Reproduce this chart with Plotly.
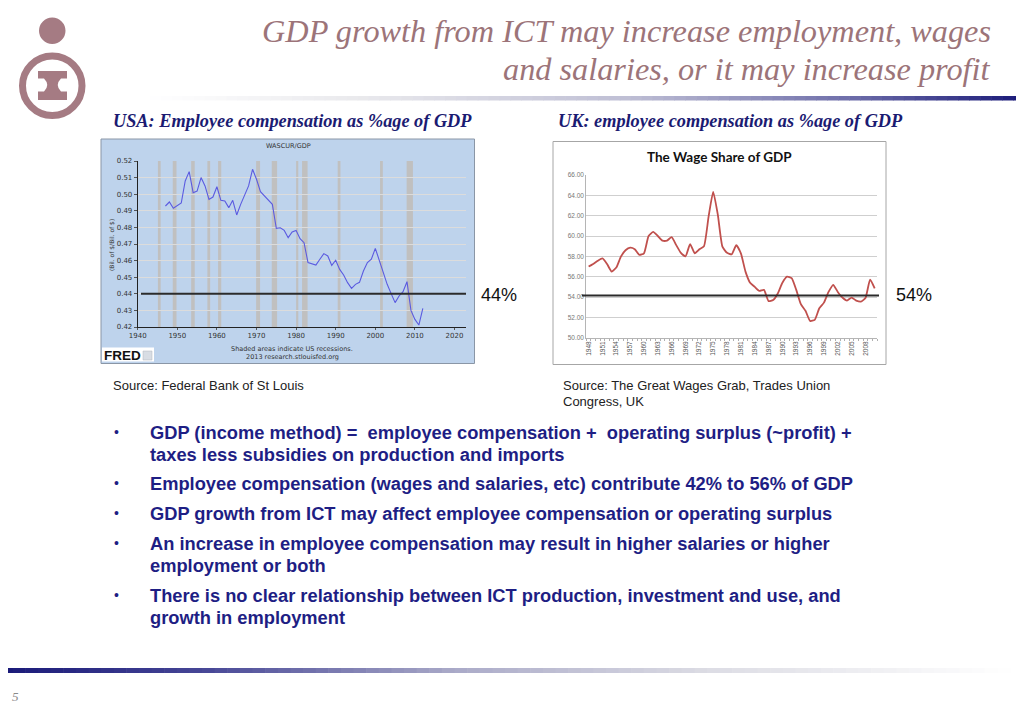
import plotly.graph_objects as go

W, H = 1024, 709

# ---------------- data ----------------
us_years = list(range(1947, 2013))
us_share = [0.4929, 0.4953, 0.4915, 0.4933, 0.4947, 0.5080, 0.5136, 0.5009, 0.5019, 0.5100,
            0.5050, 0.4969, 0.4983, 0.5045, 0.4963, 0.4959, 0.4919, 0.4963, 0.4875, 0.4939,
            0.4995, 0.5050, 0.5150, 0.5090, 0.5015, 0.4989, 0.4969, 0.4939, 0.4794, 0.4798,
            0.4782, 0.4738, 0.4772, 0.4782, 0.4732, 0.4708, 0.4588, 0.4582, 0.4573, 0.4608,
            0.4642, 0.4628, 0.4571, 0.4602, 0.4547, 0.4513, 0.4467, 0.4433, 0.4457, 0.4469,
            0.4537, 0.4588, 0.4608, 0.4674, 0.4602, 0.4517, 0.4457, 0.4401, 0.4347, 0.4387,
            0.4413, 0.4473, 0.4300, 0.4246, 0.4212, 0.4312]
us_recession_start = [1945.1, 1948.85, 1953.5, 1957.6, 1960.3, 1969.9, 1973.85, 1980.0, 1981.5, 1990.5, 2001.2, 2007.9]
us_recession_end = [1945.8, 1949.8, 1954.4, 1958.3, 1961.1, 1970.9, 1975.2, 1980.55, 1982.9, 1991.2, 2001.9, 2009.5]
us_yticks = [0.42, 0.43, 0.44, 0.45, 0.46, 0.47, 0.48, 0.49, 0.50, 0.51, 0.52]
us_xticks = [1940, 1950, 1960, 1970, 1980, 1990, 2000, 2010, 2020]

uk_years = list(range(1948, 2011))
uk_share = [57.0, 57.25, 57.57, 57.8, 57.25, 56.5, 56.9, 57.97, 58.6, 58.85,
            58.7, 58.15, 58.3, 60.0, 60.4, 60.0, 59.55, 59.55, 59.9, 59.1,
            58.35, 58.0, 59.2, 58.3, 58.7, 59.0, 61.9, 64.35, 62.1, 58.95,
            58.35, 58.2, 59.1, 58.3, 56.5, 55.4, 55.0, 54.6, 54.7, 53.6,
            53.7, 54.35, 55.4, 56.0, 55.85, 54.7, 53.3, 52.65, 51.65, 51.75,
            52.9, 53.45, 54.5, 55.2, 54.5, 53.95, 53.65, 53.95, 53.65, 53.55,
            53.9, 55.7, 54.85]
uk_yticks = [50, 52, 54, 56, 58, 60, 62, 64, 66]
uk_xticks = list(range(1948, 2011, 3))

us_ref_level = 0.44
uk_ref_level = 54.15

title_lines = ["GDP growth from ICT may increase employment, wages",
               "and salaries, or it may increase profit"]
bullets = [
    ["GDP (income method) =  employee compensation +  operating surplus (~profit) +",
     "taxes less subsidies on production and imports"],
    ["Employee compensation (wages and salaries, etc) contribute 42% to 56% of GDP"],
    ["GDP growth from ICT may affect employee compensation or operating surplus"],
    ["An increase in employee compensation may result in higher salaries or higher",
     "employment or both"],
    ["There is no clear relationship between ICT production, investment and use, and",
     "growth in employment"],
]


def px(x):
    return x / W


def py(y):
    return 1 - y / H


fig = go.Figure()

fig.add_trace(go.Scatter(x=us_years, y=us_share, mode="lines",
                         line=dict(color="#5b5be0", width=1.1),
                         xaxis="x", yaxis="y", hoverinfo="skip"))
fig.add_trace(go.Scatter(x=uk_years, y=uk_share, mode="lines",
                         line=dict(color="#c0504d", width=1.8, shape="spline", smoothing=0.5),
                         xaxis="x2", yaxis="y2", hoverinfo="skip"))

shapes = []
annotations = []


def lerp(c1, c2, t):
    return tuple(int(round(a + (b - a) * t)) for a, b in zip(c1, c2))


def gradient_bar(x0, x1, y0, y1, stops, n=80):
    for i in range(n):
        t = (i + 0.5) / n
        for j in range(len(stops) - 1):
            if stops[j][0] <= t <= stops[j + 1][0]:
                tt = (t - stops[j][0]) / (stops[j + 1][0] - stops[j][0])
                c = lerp(stops[j][1], stops[j + 1][1], tt)
                break
        xa = x0 + (x1 - x0) * i / n
        xb = x0 + (x1 - x0) * (i + 1) / n + 0.6
        shapes.append(dict(type="rect", xref="paper", yref="paper",
                           x0=px(xa), x1=px(xb), y0=py(y1), y1=py(y0),
                           line=dict(width=0), fillcolor="rgb(%d,%d,%d)" % c, layer="below"))


gradient_bar(150, 1024, 96, 100.5,
             [(0, (255, 255, 255)), (0.25, (232, 232, 236)), (0.55, (190, 190, 212)),
              (0.8, (110, 110, 170)), (1.0, (25, 25, 120))])
gradient_bar(0, 1010, 668, 673,
             [(0, (25, 25, 120)), (0.2, (70, 70, 150)), (0.45, (170, 170, 200)),
              (0.7, (220, 220, 228)), (1.0, (255, 255, 255))])

# --- logo ---
logo_col = "#a57b83"
shapes.append(dict(type="circle", xref="paper", yref="paper",
                   x0=px(39), x1=px(65.5), y0=py(44), y1=py(17.5),
                   fillcolor=logo_col, line=dict(width=0)))
shapes.append(dict(type="circle", xref="paper", yref="paper",
                   x0=px(22.5), x1=px(82), y0=py(115.5), y1=py(56),
                   fillcolor="rgba(0,0,0,0)", line=dict(color=logo_col, width=7)))
pts = "M {},{} L {},{} L {},{} L {},{} Q {},{} {},{} L {},{} L {},{} L {},{} L {},{} L {},{} Q {},{} {},{} L {},{} Z"
coords = [(38, 71), (67, 71), (67, 78.5), (61, 78.5), (54.5, 85), (61, 91.5), (67, 91.5), (67, 100),
          (38, 100), (38, 91.5), (44, 91.5), (50.5, 85), (44, 78.5), (38, 78.5)]
flat = []
for (a, b) in coords:
    flat += [round(px(a), 5), round(py(b), 5)]
shapes.append(dict(type="path", xref="paper", yref="paper", path=pts.format(*flat),
                   fillcolor=logo_col, line=dict(width=0)))

# --- US chart frame ---
shapes.append(dict(type="rect", xref="paper", yref="paper",
                   x0=px(101), x1=px(474.5), y0=py(363.5), y1=py(139),
                   fillcolor="#bed3ec", line=dict(color="#8a96a6", width=1), layer="below"))
for s, e in zip(us_recession_start, us_recession_end):
    shapes.append(dict(type="rect", xref="x", yref="y domain", x0=s, x1=e, y0=0, y1=1,
                       fillcolor="#c0c0c0", line=dict(width=0), layer="below"))
shapes.append(dict(type="rect", xref="paper", yref="paper",
                   x0=px(102), x1=px(154), y0=py(361.5), y1=py(347.5),
                   fillcolor="white", line=dict(width=0)))
shapes.append(dict(type="rect", xref="paper", yref="paper",
                   x0=px(143), x1=px(152), y0=py(360), y1=py(351),
                   fillcolor="#d8dde4", line=dict(color="#b0b6bf", width=0.5)))

# --- UK chart frame ---
shapes.append(dict(type="rect", xref="paper", yref="paper",
                   x0=px(553), x1=px(886), y0=py(364.5), y1=py(141.5),
                   fillcolor="white", line=dict(color="#a6a6a6", width=1), layer="below"))

# --- reference lines drawn over the charts ---
shapes.append(dict(type="line", xref="paper", yref="y", x0=px(141), x1=px(466),
                   y0=us_ref_level, y1=us_ref_level, line=dict(color="#2b2b2b", width=2)))
shapes.append(dict(type="line", xref="paper", yref="y2", x0=px(582), x1=px(879),
                   y0=uk_ref_level, y1=uk_ref_level, line=dict(color="#2b2b2b", width=2)))


def text(x, y, s, size, color, family, xanchor="left", yanchor="middle", **kw):
    annotations.append(dict(x=px(x), y=py(y), xref="paper", yref="paper", text=s,
                            showarrow=False, xanchor=xanchor, yanchor=yanchor,
                            font=dict(size=size, color=color, family=family), **kw))


title_col = "#9c7479"
text(993, 31, "<i>%s</i>" % title_lines[0], 32.3, title_col, "Liberation Serif", xanchor="right")
text(993, 69, "<i>%s</i>" % title_lines[1], 32.3, title_col, "Liberation Serif", xanchor="right")

sub_col = "#1b1b72"
text(111, 121, "<b><i>USA: Employee compensation as %age of GDP</i></b>", 18.3, sub_col, "Liberation Serif")
text(556, 121, "<b><i>UK: employee compensation as %age of GDP</i></b>", 18.3, sub_col, "Liberation Serif")

fred_font = "DejaVu Sans"
text(288, 145.5, "WASCUR/GDP", 6.5, "#333333", fred_font, xanchor="center")
text(292, 348.5, "Shaded areas indicate US recessions.", 6.5, "#333333", fred_font, xanchor="center")
text(292, 356.5, "2013 research.stlouisfed.org", 6.5, "#333333", fred_font, xanchor="center")
text(102, 355, "<b>FRED</b>", 13.5, "#111111", "Liberation Sans")
text(111, 245, "(Bil. of $/Bil. of $)", 6, "#333333", fred_font, xanchor="center", textangle=-90)

text(719.5, 157, "<b>The Wage Share of GDP</b>", 13.5, "#111111", "Lato", xanchor="center")

text(479, 295, "44%", 18, "#111111", "Liberation Sans")
text(894, 295, "54%", 18, "#111111", "Liberation Sans")

text(111, 385, "Source: Federal Bank of St Louis", 13, "#222222", "Liberation Sans")
text(561, 385, "Source: The Great Wages Grab, Trades Union", 13, "#222222", "Liberation Sans")
text(561, 401, "Congress, UK", 13, "#222222", "Liberation Sans")

bul_col = "#1e1e84"
y_first = [432, 483, 513, 543, 595]
for lines, y0 in zip(bullets, y_first):
    text(112, y0, "•", 14, bul_col, "Liberation Sans")
    for k, ln in enumerate(lines):
        text(148, y0 + 22 * k, "<b>%s</b>" % ln, 18.3, bul_col, "Liberation Sans")

text(10, 696, "<i>5</i>", 13, "#8a8a8a", "Liberation Sans Narrow")

fig.update_layout(
    autosize=True, margin=dict(l=0, r=0, t=0, b=0, autoexpand=False),
    paper_bgcolor="white", plot_bgcolor="white", showlegend=False,
    shapes=shapes, annotations=annotations,
    xaxis=dict(domain=[px(137.7), px(466)], range=[1940, 2022.9],
               tickvals=us_xticks, ticktext=[str(v) for v in us_xticks],
               tickfont=dict(size=7, color="#333333", family=fred_font),
               showgrid=False, zeroline=False, showline=True, linecolor="#222222", linewidth=1,
               ticks="outside", ticklen=2, tickcolor="#555555", anchor="y"),
    yaxis=dict(domain=[py(327), py(161)], range=[0.42, 0.52],
               tickvals=us_yticks, ticktext=["%.2f" % v for v in us_yticks],
               tickfont=dict(size=7, color="#333333", family=fred_font),
               showgrid=True, gridcolor="#dcdcdc", gridwidth=1, zeroline=False,
               showline=True, linecolor="#222222", linewidth=1,
               ticks="outside", ticklen=3, tickcolor="#555555", anchor="x"),
    xaxis2=dict(domain=[px(586.3), px(877)], range=[1947.5, 2010.5],
                tickvals=uk_xticks, ticktext=[str(v) for v in uk_xticks], tickangle=-90,
                tickfont=dict(size=6.5, color="#555555", family="Liberation Sans"),
                showgrid=False, zeroline=False, showline=True, linecolor="#b5b5b5", linewidth=1,
                ticks="", minor=dict(ticks="outside", tick0=1947.5, dtick=1, ticklen=2,
                                     tickcolor="#b0b0b0", showgrid=False),
                anchor="y2"),
    yaxis2=dict(domain=[py(337.7), py(175)], range=[50, 66],
                tickvals=uk_yticks, ticktext=["%.2f" % v for v in uk_yticks],
                tickfont=dict(size=6.5, color="#777777", family="Liberation Sans"),
                showgrid=True, gridcolor="#cfcfcf", gridwidth=1, zeroline=False,
                showline=True, linecolor="#b5b5b5", linewidth=1, ticks="", anchor="x2"),
)

# the div style absorbs the default 8px body margin so the 1024x709 figure sits at the page origin
fig.write_html(
    "out.html",
    config={"displayModeBar": False, "responsive": False},
    default_width="%dpx;margin:-8px" % W,
    default_height="%dpx" % H,
)
